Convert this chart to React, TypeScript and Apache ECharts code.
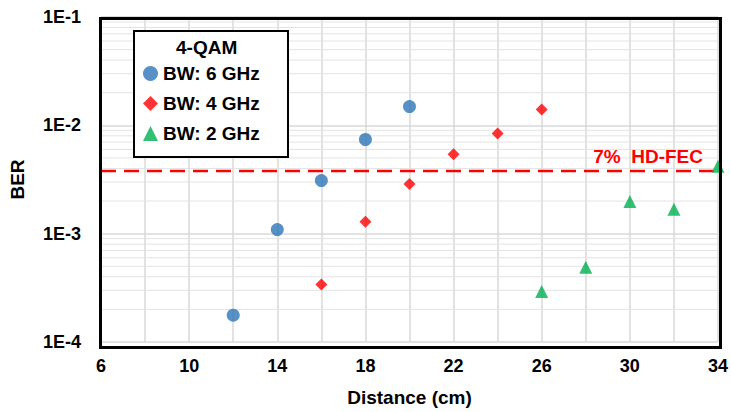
import React, { useEffect, useRef } from "react";
import * as echarts from "echarts";

const bw6X = [12, 14, 16, 18, 20];
const bw6Y = [1.77e-4, 1.09e-3, 3.09e-3, 7.4e-3, 1.49e-2];
const bw4X = [16, 18, 20, 22, 24, 26];
const bw4Y = [3.4e-4, 1.29e-3, 2.87e-3, 5.4e-3, 8.4e-3, 1.4e-2];
const bw2X = [26, 28, 30, 32, 34];
const bw2Y = [2.92e-4, 4.9e-4, 1.98e-3, 1.68e-3, 4.2e-3];
const fecLevel = 3.78e-3;
const xRange = [6, 34];
const minorLevels = [1e-4, 1e-3, 1e-2].flatMap((d) => [2, 3, 4, 5, 6, 7, 8, 9].map((k) => k * d));

const FONT = "Liberation Sans";

export default function App() {
  const ref = useRef<HTMLDivElement>(null);
  useEffect(() => {
    const chart = echarts.init(ref.current!, null, { renderer: "svg" });
    const zip = (xs: number[], ys: number[]) => xs.map((x, i) => [x, ys[i]]);
    const minorSeries = minorLevels.map((v) => ({
      type: "line",
      silent: true,
      symbol: "none",
      z: 1,
      lineStyle: { color: "#e3e3e3", width: 1 },
      data: xRange.map((x) => [x, v]),
    }));
    chart.setOption({
      animation: false,
      textStyle: { fontFamily: FONT },
      grid: { left: 98, right: 13, top: 17, bottom: 67 },
      xAxis: {
        type: "value",
        min: xRange[0],
        max: xRange[1],
        interval: 2,
        name: "Distance (cm)",
        nameLocation: "middle",
        nameGap: 46,
        nameTextStyle: { fontFamily: FONT, fontWeight: "bold", fontSize: 19, color: "#000" },
        axisLine: { show: false },
        axisTick: { show: false },
        axisLabel: {
          interval: 1,
          margin: 15,
          fontFamily: FONT,
          fontWeight: "bold",
          fontSize: 18,
          color: "#000",
          formatter: (v: number) => ((v - 6) % 4 === 0 ? String(v) : ""),
        },
        splitLine: { show: true, lineStyle: { color: "#d9d9d9", width: 1.5 } },
      },
      yAxis: {
        type: "log",
        logBase: 10,
        min: 1e-4,
        max: 1e-1,
        name: "BER",
        nameLocation: "middle",
        nameGap: 74,
        nameRotate: 90,
        nameTextStyle: { fontFamily: FONT, fontWeight: "bold", fontSize: 19, color: "#000" },
        axisLine: { show: false },
        axisTick: { show: false },
        axisLabel: {
          margin: 20,
          fontFamily: FONT,
          fontWeight: "bold",
          fontSize: 18,
          color: "#000",
          formatter: (v: number) => "1E" + Math.round(Math.log10(v)),
        },
        splitLine: { show: true, lineStyle: { color: "#d9d9d9", width: 1.5 } },
      },
      legend: {
        left: 138,
        top: 59,
        z: 200,
        orient: "vertical",
        itemGap: 11,
        itemWidth: 15,
        itemHeight: 15,
        textStyle: { fontFamily: FONT, fontWeight: "bold", fontSize: 19, color: "#000" },
        data: ["BW: 6 GHz", "BW: 4 GHz", "BW: 2 GHz"],
      },
      graphic: [
        { type: "rect", left: 98, top: 16, z: 50, shape: { width: 620, height: 329 }, style: { fill: "none", stroke: "#000", lineWidth: 3 } },
        { type: "rect", left: 133, top: 30, z: 90, shape: { width: 154, height: 126 }, style: { fill: "#fff", stroke: "#000", lineWidth: 2 } },
        { type: "text", left: 176, top: 38, z: 91, style: { text: "4-QAM", fontFamily: FONT, fontWeight: "bold", fontSize: 19, fill: "#000" } },
      ],
      series: [
        ...minorSeries,
        {
          name: "fec",
          type: "line",
          silent: true,
          symbol: "circle",
          symbolSize: 0.1,
          showSymbol: true,
          itemStyle: { color: "#ff0000" },
          z: 3,
          lineStyle: { color: "#ff0000", width: 2.5, type: [15, 8] },
          data: [
            [xRange[0], fecLevel],
            {
              value: [xRange[1], fecLevel],
              label: {
                show: true,
                position: "top",
                align: "right",
                offset: [-15, 0],
                formatter: "7%  HD-FEC",
                fontFamily: FONT,
                fontWeight: "bold",
                fontSize: 19,
                color: "#ff0000",
              },
            },
          ],
        },
        { name: "BW: 6 GHz", type: "scatter", symbol: "circle", symbolSize: 13, itemStyle: { color: "#2E75B6" }, data: zip(bw6X, bw6Y), z: 5 },
        { name: "BW: 4 GHz", type: "scatter", symbol: "diamond", symbolSize: 12, itemStyle: { color: "#FF0000" }, data: zip(bw4X, bw4Y), z: 5 },
        { name: "BW: 2 GHz", type: "scatter", symbol: "triangle", symbolSize: 13, itemStyle: { color: "#00B050" }, data: zip(bw2X, bw2Y), z: 5 },
      ],
    });
    return () => chart.dispose();
  }, []);
  return <div ref={ref} style={{ width: 731, height: 412, position: "absolute", left: 0, top: 0, background: "#fff" }} />;
}
